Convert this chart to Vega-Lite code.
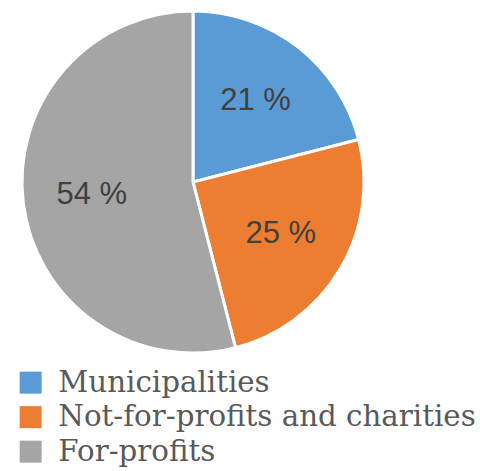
{
  "$schema": "https://vega.github.io/schema/vega-lite/v6.json",
  "width": 342,
  "height": 342,
  "autosize": {"type": "none"},
  "padding": {"left": 22, "top": 11, "right": 116, "bottom": 118},
  "background": "white",
  "config": {"view": {"stroke": null}},
  "data": {
    "values": [
      {"sector": "Municipalities", "share": 21, "label": "21 %"},
      {"sector": "Not-for-profits and charities", "share": 25, "label": "25 %"},
      {"sector": "For-profits", "share": 54, "label": "54 %"}
    ]
  },
  "encoding": {
    "theta": {"field": "share", "type": "quantitative", "stack": true},
    "order": {"field": "order", "type": "quantitative"}
  },
  "transform": [
    {"window": [{"op": "row_number", "as": "order"}]}
  ],
  "layer": [
    {
      "mark": {"type": "arc", "outerRadius": 171, "stroke": "white", "strokeWidth": 3},
      "encoding": {
        "color": {
          "field": "sector",
          "type": "nominal",
          "sort": ["Municipalities", "Not-for-profits and charities", "For-profits"],
          "scale": {
            "domain": ["Municipalities", "Not-for-profits and charities", "For-profits"],
            "range": ["#5B9BD5", "#ED7D31", "#A5A5A5"]
          },
          "legend": {
            "title": null,
            "orient": "none",
            "legendX": -6,
            "legendY": 357,
            "padding": 0,
            "symbolType": "square",
            "symbolSize": 484,
            "symbolStrokeWidth": 0,
            "labelFont": "DejaVu Serif",
            "labelFontSize": 29.3,
            "labelColor": "#595959",
            "labelOffset": 13,
            "rowPadding": 4.5,
            "labelLimit": 500
          }
        }
      }
    },
    {
      "mark": {"type": "text", "radius": 102, "font": "Liberation Sans", "fontSize": 31, "fill": "#404040"},
      "encoding": {
        "text": {"field": "label", "type": "nominal"}
      }
    }
  ]
}
